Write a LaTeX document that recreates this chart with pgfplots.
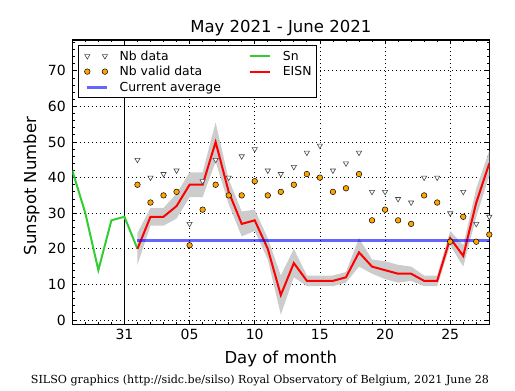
\documentclass[border=0pt]{standalone}
\usepackage{fontspec}
\setmainfont{DejaVu Sans}
\newfontfamily\seriffont{DejaVu Serif}
\usepackage{graphicx}
\usepackage{pgfplots}
\pgfplotsset{compat=1.18}
\definecolor{sngreen}{RGB}{50,205,50}
\definecolor{bandgray}{RGB}{204,204,204}
\definecolor{orng}{RGB}{255,165,0}
\definecolor{trigray}{RGB}{70,70,70}
\begin{document}
\begin{tikzpicture}[x=1bp,y=1bp]
\path[use as bounding box] (0,0) rectangle (515,390);
\begin{axis}[
  at={(72.3bp,65.5bp)}, anchor=south west,
  scale only axis, width=417bp, height=284.5bp,
  xmin=-4, xmax=28, ymin=-1.26, ymax=78.65,
  xtick={0,5,10,15,20,25}, xticklabels={31,05,10,15,20,25},
  minor xtick={-4,...,28},
  ytick={0,10,...,70}, minor ytick={0,2,...,78},
  tick align=inside,
  major tick length=4.5bp, minor tick length=2.5bp,
  every tick/.style={black, line width=0.8bp},
  grid=major,
  major grid style={black, line width=0.7bp, dash pattern=on 1bp off 3bp},
  axis line style={black, line width=1.3bp},
  /pgf/number format/assume math mode=true,
  ticklabel style={font=\fontsize{14bp}{14bp}\selectfont, inner sep=0bp},
  xticklabel style={yshift=-4.5bp},
  yticklabel style={xshift=-6.3bp},
  legend columns=2,
  legend cell align=left,
  legend style={
    at={(0.0137,0.9824)}, anchor=north west,
    draw=black, line width=0.8bp, fill=white,
    inner xsep=3bp, inner ysep=2.95bp,
    row sep=0bp,
    font=\fontsize{12.4bp}{14bp}\selectfont,
    nodes={inner xsep=2bp, inner ysep=2.25bp, text height=9.8bp, text depth=1.2bp},
    cells={anchor=west},
    /tikz/column 1/.style={column sep=8.8bp},
    /tikz/column 2/.style={column sep=25.7bp},
    /tikz/column 3/.style={column sep=10.3bp},
  },
]
% legend entries (row-wise: Nb data, Sn, Nb valid data, EISN, Current average)
\addlegendimage{legend image code/.code={\path (-5.5bp,0bp);
  \draw[trigray, fill=white, line width=0.6bp] plot[only marks, mark=triangle*, mark size=3bp, mark options={rotate=180}] coordinates {(0bp,0bp) (17.6bp,0bp)};}}
\addlegendentry{Nb data}
\addlegendimage{legend image code/.code={\draw[sngreen, line width=2bp] (0bp,0bp) -- (20bp,0bp);}}
\addlegendentry{Sn}
\addlegendimage{legend image code/.code={\path (-5.5bp,0bp);
  \draw[black, fill=orng, line width=0.5bp] plot[only marks, mark=*, mark size=2.8bp] coordinates {(0bp,0bp) (17.6bp,0bp)};}}
\addlegendentry{Nb valid data}
\addlegendimage{legend image code/.code={\draw[red, line width=2bp] (0bp,0bp) -- (20bp,0bp);}}
\addlegendentry{EISN}
\addlegendimage{legend image code/.code={\draw[blue, opacity=0.6, line width=3bp] (0bp,0bp) -- (20bp,0bp);}}
\addlegendentry{Current average}

% error band of EISN
\addplot[fill=bandgray, draw=none, forget plot] coordinates {
 (1,24.5) (2,31.5) (3,31.5) (4,35.5) (5,41.5) (6,41.5) (7,55.5) (8,39.5) (9,30.5) (10,31)
 (11,23) (12,12.5) (13,20) (14,12.5) (15,12.5) (16,12.5) (17,13.5) (18,23) (19,17) (20,16.5)
 (21,15.5) (22,15) (23,12.5) (24,12.5) (25,25) (26,21) (27,37) (28,47.5)
 (28,40.5) (27,29) (26,15) (25,21) (24,9.5) (23,9.5) (22,11) (21,10.5) (20,11.5) (19,13)
 (18,15) (17,10.5) (16,9.5) (15,9.5) (14,9.5) (13,12) (12,1.5) (11,17) (10,25) (9,23.5)
 (8,32.5) (7,44.5) (6,34.5) (5,34.5) (4,28.5) (3,26.5) (2,26.5) (1,15.5)} -- cycle;

% May 31 separator
\addplot[black, line width=1.7bp, forget plot] coordinates {(0,-1.26) (0,78.65)};

% Nb data
\addplot[only marks, mark=triangle*, mark size=3bp, mark options={rotate=180, draw=trigray, fill=white, line width=0.6bp}, forget plot] coordinates {
 (1,45) (2,40) (3,41) (4,42) (5,27) (6,39) (7,45) (8,40) (9,46) (10,48)
 (11,42) (12,41) (13,43) (14,47) (15,49) (16,42) (17,44) (18,47) (19,36) (20,36)
 (21,34) (22,33) (23,40) (24,40) (25,30) (26,36) (27,27) (28,29)};

% Nb valid data
\addplot[only marks, mark=*, mark size=2.8bp, mark options={draw=black, fill=orng, line width=0.5bp}, forget plot] coordinates {
 (1,38) (2,33) (3,35) (4,36) (5,21) (6,31) (7,38) (8,35) (9,35) (10,39)
 (11,35) (12,36) (13,38) (14,41) (15,40) (16,36) (17,37) (18,41) (19,28) (20,31)
 (21,28) (22,27) (23,35) (24,33) (25,22) (26,29) (27,22) (28,24)};

% Sn
\addplot[sngreen, line width=2bp, forget plot] coordinates {
 (-4,42) (-3,30) (-2,14) (-1,28) (0,29) (1,20)};

% EISN
\addplot[red, line width=2bp, forget plot] coordinates {
 (1,20) (2,29) (3,29) (4,32) (5,38) (6,38) (7,50) (8,36) (9,27) (10,28)
 (11,20) (12,7) (13,16) (14,11) (15,11) (16,11) (17,12) (18,19) (19,15) (20,14)
 (21,13) (22,13) (23,11) (24,11) (25,23) (26,18) (27,33) (28,44)};

% Current average
\addplot[blue, opacity=0.6, line width=3bp, forget plot] coordinates {(1,22.4) (28,22.4)};
\end{axis}
\node[anchor=base, font=\fontsize{16.5bp}{16.5bp}\selectfont] at (280.8,358) {May 2021 - June 2021};
\node[anchor=base, font=\fontsize{16.5bp}{16.5bp}\selectfont] at (280.8,27) {Day of month};
\node[anchor=base, rotate=90, font=\fontsize{16.5bp}{16.5bp}\selectfont] at (36,204) {Sunspot Number};
\node[anchor=base, inner sep=0bp] at (260,7) {\resizebox{458bp}{!}{\seriffont\fontsize{10bp}{12bp}\selectfont SILSO graphics (http://sidc.be/silso) Royal Observatory of Belgium, 2021 June 28}};
\end{tikzpicture}
\end{document}
